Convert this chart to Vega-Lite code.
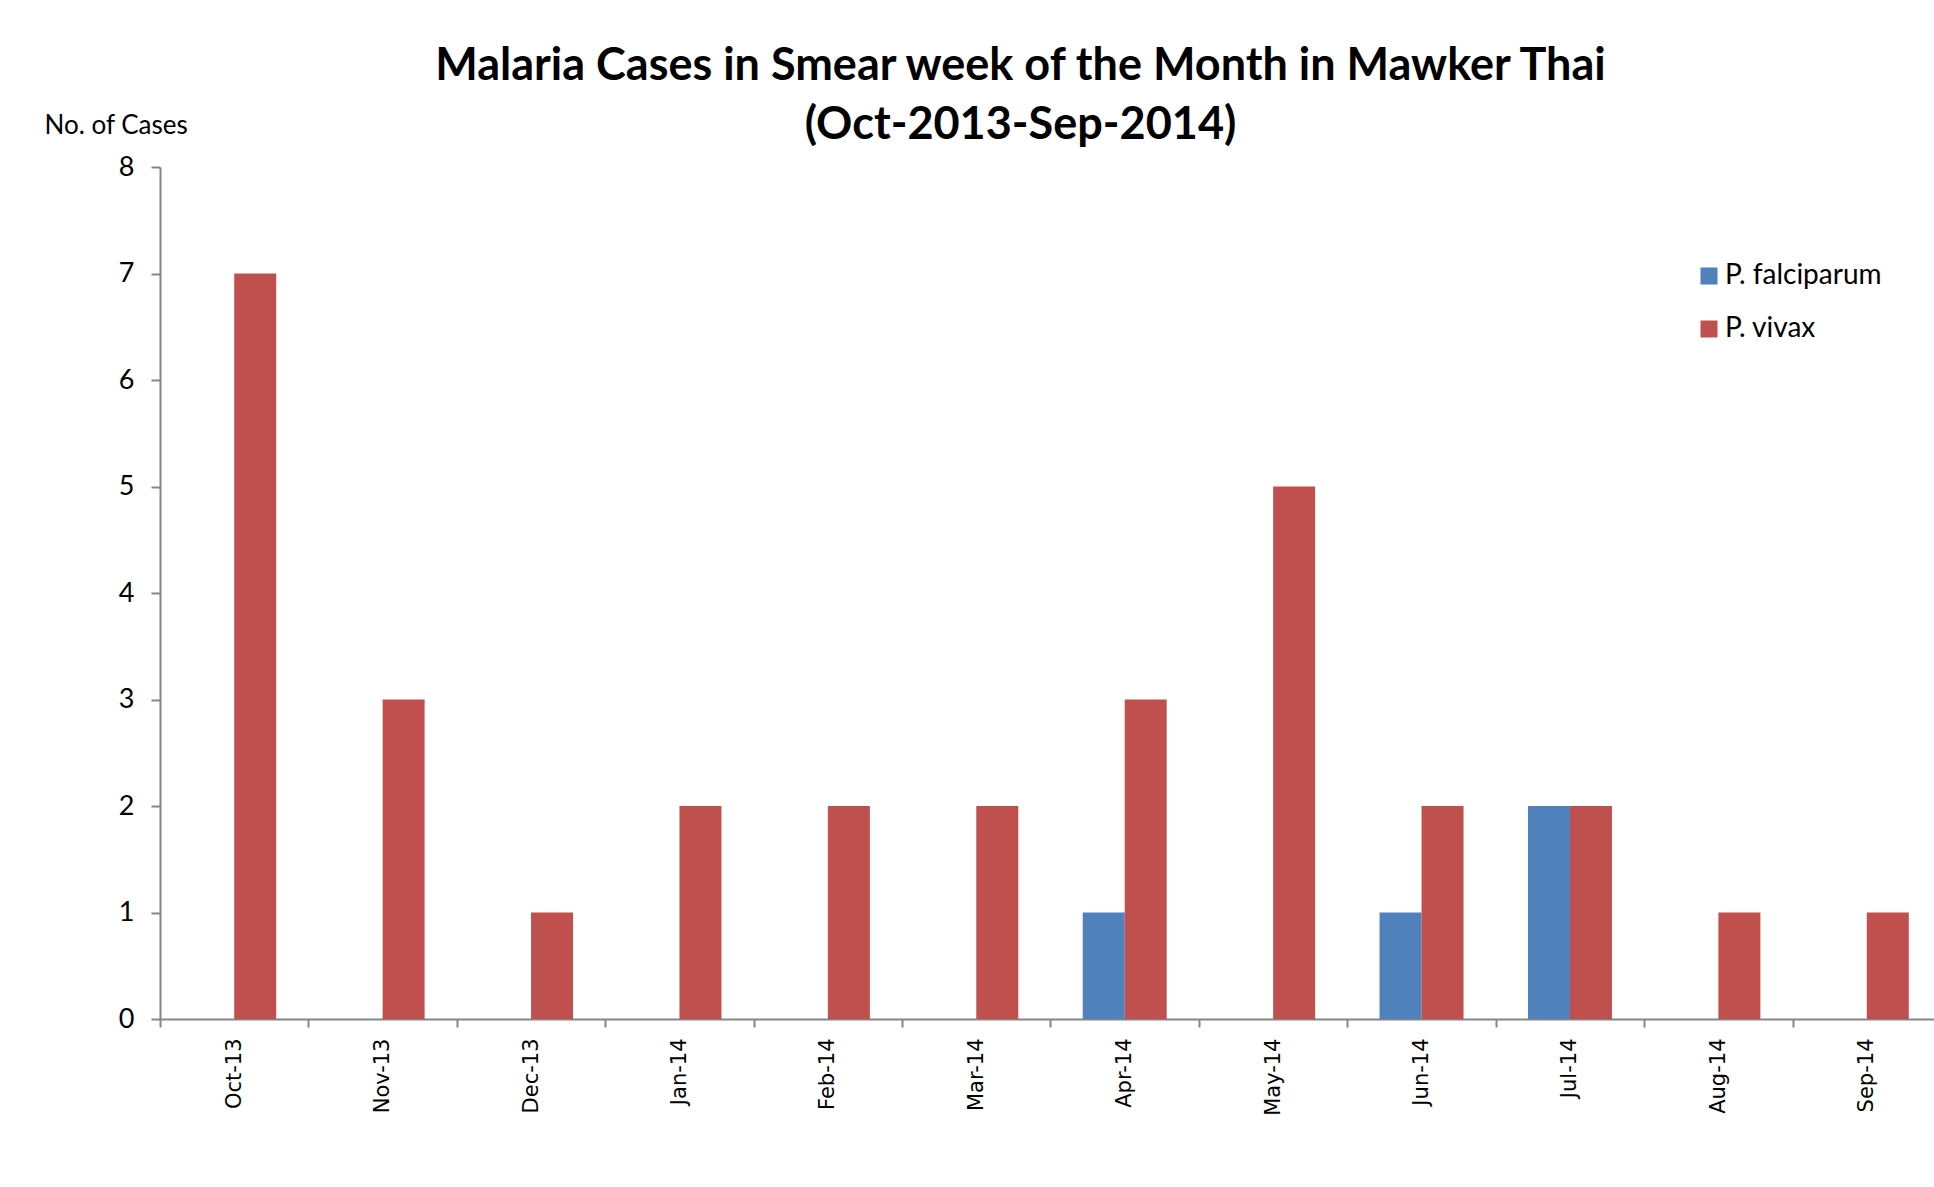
{
  "$schema": "https://vega.github.io/schema/vega-lite/v6.json",
  "autosize": "none",
  "padding": {"left": 160, "top": 167, "right": -7, "bottom": 168},
  "width": 1781,
  "height": 852,
  "background": "white",
  "title": {
    "text": ["Malaria Cases in Smear week of the Month in Mawker Thai", "(Oct-2013-Sep-2014)"],
    "font": "Lato",
    "fontSize": 45,
    "fontWeight": "bold",
    "color": "black",
    "lineHeight": 59,
    "anchor": "middle",
    "dx": -30,
    "offset": -36
  },
  "data": {
    "values": [
      {"month": "Oct-13", "species": "P. vivax", "cases": 7},
      {"month": "Nov-13", "species": "P. vivax", "cases": 3},
      {"month": "Dec-13", "species": "P. vivax", "cases": 1},
      {"month": "Jan-14", "species": "P. vivax", "cases": 2},
      {"month": "Feb-14", "species": "P. vivax", "cases": 2},
      {"month": "Mar-14", "species": "P. vivax", "cases": 2},
      {"month": "Apr-14", "species": "P. falciparum", "cases": 1},
      {"month": "Apr-14", "species": "P. vivax", "cases": 3},
      {"month": "May-14", "species": "P. vivax", "cases": 5},
      {"month": "Jun-14", "species": "P. falciparum", "cases": 1},
      {"month": "Jun-14", "species": "P. vivax", "cases": 2},
      {"month": "Jul-14", "species": "P. falciparum", "cases": 2},
      {"month": "Jul-14", "species": "P. vivax", "cases": 2},
      {"month": "Aug-14", "species": "P. vivax", "cases": 1},
      {"month": "Sep-14", "species": "P. vivax", "cases": 1}
    ]
  },
  "mark": {"type": "bar"},
  "encoding": {
    "x": {
      "field": "month",
      "type": "nominal",
      "sort": ["Oct-13","Nov-13","Dec-13","Jan-14","Feb-14","Mar-14","Apr-14","May-14","Jun-14","Jul-14","Aug-14","Sep-14"],
      "scale": {"paddingInner": 0, "paddingOuter": 0},
      "axis": {
        "title": null,
        "tickBand": "extent",
        "labelAngle": -90,
        "labelAlign": "right",
        "labelBaseline": "middle",
        "labelFont": "DejaVu Sans",
        "labelFontSize": 21,
        "labelColor": "black",
        "labelPadding": 11,
        "tickSize": 8,
        "tickColor": "#868686",
        "tickWidth": 2,
        "domainColor": "#868686",
        "domainWidth": 2
      }
    },
    "xOffset": {
      "field": "species",
      "scale": {"domain": ["P. falciparum", "P. vivax"], "paddingInner": 0, "paddingOuter": 0.767}
    },
    "y": {
      "field": "cases",
      "type": "quantitative",
      "scale": {"domain": [0, 8], "nice": false},
      "axis": {
        "title": "No. of Cases",
        "titleAngle": 0,
        "titleAlign": "left",
        "titleBaseline": "alphabetic",
        "titleX": -116,
        "titleY": -34,
        "titleFont": "Lato",
        "titleFontSize": 26,
        "titleFontWeight": "normal",
        "titleColor": "black",
        "values": [0,1,2,3,4,5,6,7,8],
        "format": "d",
        "grid": false,
        "labelFont": "Lato",
        "labelFontSize": 27,
        "labelColor": "black",
        "labelPadding": 17,
        "tickSize": 9,
        "tickColor": "#868686",
        "tickWidth": 2,
        "domainColor": "#868686",
        "domainWidth": 2
      }
    },
    "color": {
      "field": "species",
      "type": "nominal",
      "scale": {"domain": ["P. falciparum", "P. vivax"], "range": ["#4F81BD", "#C0504D"]},
      "legend": {
        "title": null,
        "orient": "none",
        "legendX": 1535,
        "legendY": 95,
        "padding": 0,
        "symbolType": "square",
        "symbolSize": 289,
        "symbolStrokeWidth": 0,
        "labelFont": "Lato",
        "labelFontSize": 28,
        "labelColor": "black",
        "labelOffset": 2,
        "rowPadding": 25
      }
    }
  },
  "config": {
    "view": {"stroke": null}
  }
}
